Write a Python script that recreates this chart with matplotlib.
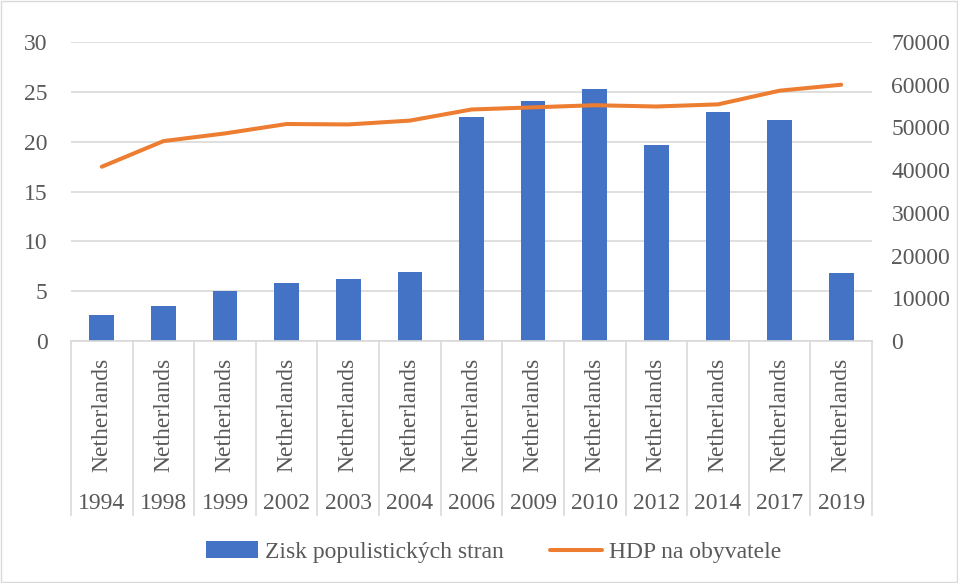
import matplotlib.pyplot as plt
import numpy as np

# -------- DATA ------------------------------------------------------
YEARS = ["1994", "1998", "1999", "2002", "2003", "2004", "2006",
         "2009", "2010", "2012", "2014", "2017", "2019"]
COUNTRY = "Netherlands"
POPULIST_GAIN = [2.6, 3.5, 5.0, 5.8, 6.25, 6.9, 22.45,
                 24.1, 25.3, 19.7, 22.95, 22.15, 6.85]
GDP_PER_CAPITA = [40800, 46800, 48600, 50800, 50700, 51600, 54200,
                  54700, 55200, 54900, 55400, 58600, 60000]
BAR_LABEL = "Zisk populistických stran"
LINE_LABEL = "HDP na obyvatele"
# --------------------------------------------------------------------

BLUE = "#4472C4"
ORANGE = "#ED7D31"
TEXT = "#595959"
GRID = "#D9D9D9"
FS = 17

plt.rcParams["font.family"] = ["Liberation Serif", "DejaVu Serif"]

fig = plt.figure(figsize=(9.58, 5.83), dpi=100)
ax = fig.add_axes([71 / 958, 1 - 341 / 583, (872 - 71) / 958, (341 - 42) / 583])
ax2 = ax.twinx()

x = np.arange(len(YEARS))
ax.bar(x, POPULIST_GAIN, width=0.4, color=BLUE, zorder=2, label=BAR_LABEL)
ax2.plot(x, GDP_PER_CAPITA, color=ORANGE, linewidth=2.9, solid_capstyle="round",
         zorder=3, label=LINE_LABEL)

ax.set_xlim(-0.5, len(YEARS) - 0.5)
ax.set_ylim(0, 30)
ax.set_yticks(range(0, 31, 5))
ax2.set_ylim(0, 70000)
ax2.set_yticks(range(0, 70001, 10000))

ax.grid(axis="y", color=GRID, linewidth=1.2, zorder=0)
ax.set_axisbelow(True)
for a in (ax, ax2):
    for s in a.spines.values():
        s.set_visible(False)
    a.tick_params(axis="y", length=0, labelsize=FS, labelcolor=TEXT)
ax.tick_params(axis="y", pad=17)
ax2.tick_params(axis="y", pad=14)
ax.spines["bottom"].set_visible(True)
ax.spines["bottom"].set_color(GRID)
ax.spines["bottom"].set_linewidth(1.2)
ax.set_xticks([])

# two-level category axis
trans = ax.get_xaxis_transform()
for b in np.arange(-0.5, len(YEARS), 1.0):
    ax.plot([b, b], [0, -0.582], transform=trans, color=GRID, linewidth=1.2,
            clip_on=False)
for i, yr in enumerate(YEARS):
    ax.text(i, -0.247, COUNTRY, transform=trans, rotation=90, ha="center",
            va="center", fontsize=FS, color=TEXT)
    ax.text(i, -0.545, yr, transform=trans, ha="center", va="center",
            fontsize=FS, color=TEXT)

h1, l1 = ax.get_legend_handles_labels()
h2, l2 = ax2.get_legend_handles_labels()
fig.legend(h1 + h2, l1 + l2, loc="center", bbox_to_anchor=(494 / 958, 31 / 583),
           ncol=2, frameon=False, fontsize=FS, labelcolor=TEXT,
           handlelength=2.2, handletextpad=0.3, columnspacing=1.95)

fig.patches.append(plt.Rectangle((0.001, 0.001), 0.998, 0.998, transform=fig.transFigure,
                                 fill=False, edgecolor=GRID, linewidth=1))

fig.savefig("out.png", dpi=100)
